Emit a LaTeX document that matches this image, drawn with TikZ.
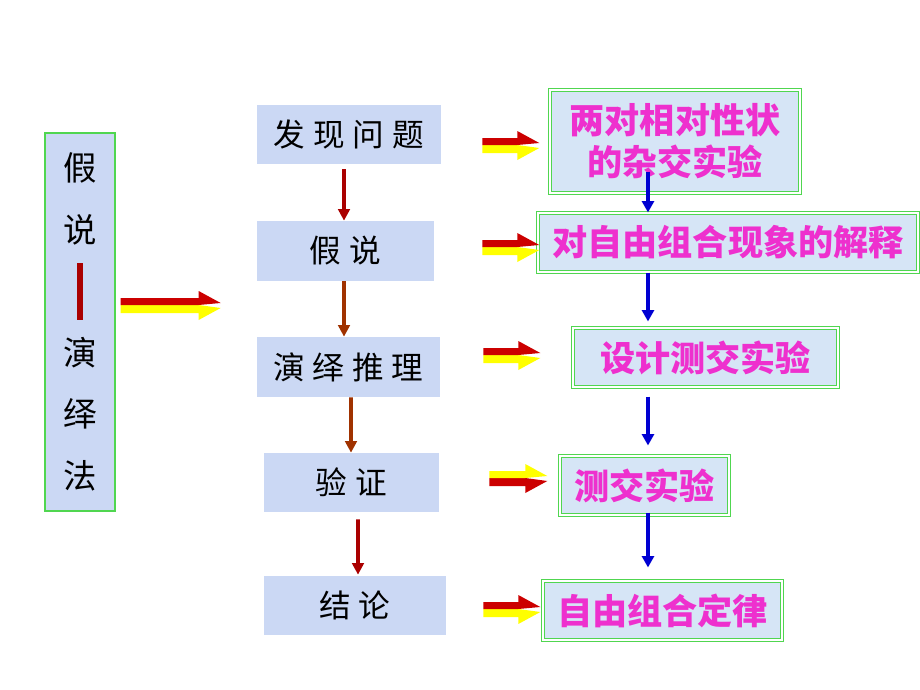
\documentclass[tikz,border=0pt]{standalone}
\usepackage{fontspec}
\usetikzlibrary{arrows.meta,calc}
\newfontfamily\cjk{Noto Sans CJK SC}
\newfontfamily\cjkwide[LetterSpace=25]{Noto Sans CJK SC}
\definecolor{stepfill}{RGB}{203,216,244}
\definecolor{resultfill}{RGB}{214,229,246}
\definecolor{framegreen}{RGB}{80,214,80}
\definecolor{resultpink}{RGB}{238,48,206}
\definecolor{darkred}{RGB}{170,0,0}
\definecolor{brownred}{RGB}{160,50,0}
\definecolor{flowblue}{RGB}{0,0,210}
\definecolor{arrowred}{RGB}{204,0,0}
\definecolor{arrowyellow}{RGB}{255,255,0}
\tikzset{stepline/.style={-{Triangle[length=6.5pt,width=6.5pt]},line width=2.2pt},
 flowline/.style={-{Triangle[length=6.5pt,width=6.8pt]},line width=2.2pt,flowblue}}
% two-colour block arrow: top colour, bottom colour, tail point, length
\newcommand{\fatarrow}[4]{%
 \fill[#2] #3 -- ++({#4-22},0) -- ++(22,3) -- ++(-22,12) -- ++(0,-7) -- ++({22-#4},0) -- cycle;
 \fill[#1] #3 -- ++({#4-22},0) -- ++(22,-2) -- ++(-22,-12) -- ++(0,7) -- ++({22-#4},0) -- cycle;}

\begin{document}
\begin{tikzpicture}[x=0.02cm,y=-0.02cm,
 stepbox/.style={fill=stepfill,inner sep=0pt,minimum height=1.18cm,font=\cjkwide\fontsize{18}{20}\selectfont},
 resultbox/.style={fill=resultfill,draw=framegreen,line width=0.6pt,double=white,double distance=1pt,
  inner sep=0pt,minimum height=1.18cm,align=center,text=resultpink,font=\cjk\bfseries\fontsize{20}{24}\selectfont}]
\useasboundingbox (0,0) rectangle (920,690);
\node[draw=framegreen,line width=0.8pt,fill=stepfill,minimum width=1.4cm,minimum height=7.56cm,align=center,
 font=\cjk\fontsize{19}{35}\selectfont] (M) at (80,322)
 {假\\说\\\textcolor{darkred}{\rule[-9pt]{3.4pt}{32pt}}\\演\\绎\\法};
\node[stepbox,minimum width=3.68cm] (q1) at (349,134.5) {发现问题};
\node[stepbox,minimum width=3.54cm,minimum height=1.2cm] (q2) at (345.5,251) {假说};
\node[stepbox,minimum width=3.66cm,minimum height=1.2cm] (q3) at (348.5,367) {演绎推理};
\node[stepbox,minimum width=3.5cm] (q4) at (351.5,482.5) {验证};
\node[stepbox,minimum width=3.64cm] (q5) at (355,605.5) {结论};
\node[resultbox,minimum width=5cm,minimum height=2.06cm] (a1) at (675,141.5) {两对相对性状\\的杂交实验};
\node[resultbox,minimum width=7.6cm] (a2) at (728,242.5) {对自由组合现象的解释};
\node[resultbox,minimum width=5.3cm] (a3) at (705.5,357.5) {设计测交实验};
\node[resultbox,minimum width=3.38cm] (a4) at (644.5,485.5) {测交实验};
\node[resultbox,minimum width=4.78cm] (a5) at (662.5,610.5) {自由组合定律};
\coordinate (bx) at (648,0);
\draw[stepline,darkred] ($(q1.south)+(-5,5)$) -- ($(q2.north)+(-1.5,0)$);
\draw[stepline,brownred] ($(q2.south)+(-1.5,0)$) -- ($(q3.north)+(-4.5,0)$);
\draw[stepline,brownred] ($(q3.south)+(2.5,0)$) -- ($(q4.north)+(-0.5,0)$);
\draw[stepline,darkred] ($(q4.south)+(6.5,7)$) -- ($(q5.north)+(3,-1)$);
\draw[flowline] ($(a1.south -| bx)+(0,-22)$) -- (a2.north -| bx);
\draw[flowline] (a2.south -| bx) -- ($(a3.north -| bx)+(0,-6)$);
\draw[flowline] ($(a3.south -| bx)+(0,9)$) -- ($(a4.north -| bx)+(0,-10)$);
\draw[flowline] ($(a4.south -| bx)+(0,-3)$) -- ($(a5.north -| bx)+(0,-13)$);
\fatarrow{arrowred}{arrowyellow}{($(M.east)+(5,-17)$)}{100}
\fatarrow{arrowred}{arrowyellow}{($(q1.east)+(41,10.5)$)}{57}
\fatarrow{arrowred}{arrowyellow}{($(q2.east)+(48,-4)$)}{57}
\fatarrow{arrowred}{arrowyellow}{($(q3.east)+(43,-12)$)}{57}
\fatarrow{arrowyellow}{arrowred}{($(q4.east)+(50,-4.5)$)}{58}
\fatarrow{arrowred}{arrowyellow}{($(q5.east)+(37,3.5)$)}{57}
\end{tikzpicture}
\end{document}
